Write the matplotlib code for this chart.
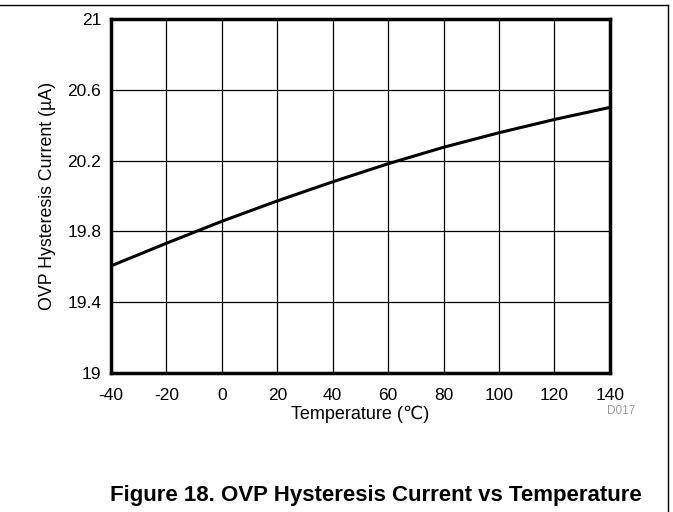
import matplotlib.pyplot as plt
import numpy as np

# values
temperature = [-40, -20, 0, 20, 40, 60, 80, 100, 120, 140]
hyst_current = [19.605, 19.733, 19.857, 19.972, 20.08, 20.182, 20.275, 20.357, 20.432, 20.50]

x_ticks = [-40, -20, 0, 20, 40, 60, 80, 100, 120, 140]
x_tick_labels = ['-40', '-20', '0', '20', '40', '60', '80', '100', '120', '140']
y_ticks = [19, 19.4, 19.8, 20.2, 20.6, 21]
y_tick_labels = ['19', '19.4', '19.8', '20.2', '20.6', '21']

plt.rcParams['font.family'] = ['Liberation Sans', 'DejaVu Sans']

fig = plt.figure(figsize=(6.73, 5.12), dpi=100)
ax = fig.add_axes([0.165, 0.2715, 0.741, 0.6915])

ax.plot(temperature, hyst_current, color='black', linewidth=2.2)

ax.set_xlim(-40, 140)
ax.set_ylim(19, 21)
ax.set_xticks(x_ticks)
ax.set_xticklabels(x_tick_labels)
ax.set_yticks(y_ticks)
ax.set_yticklabels(y_tick_labels)
ax.tick_params(axis='y', length=0, labelsize=12.5, pad=7)
ax.tick_params(axis='x', length=0, labelsize=12.5, pad=11)
ax.grid(True, color='black', linewidth=0.9)
for s in ax.spines.values():
    s.set_linewidth(2.5)

ax.set_xlabel('Temperature (\u2103)', fontsize=13, labelpad=2)
ax.set_ylabel('OVP Hysteresis Current (\u00b5A)', fontsize=12.8, labelpad=8)

fig.text(0.944, 0.197, 'D017', fontsize=8.5, color='#999999', ha='right', va='center')
fig.text(0.559, 0.033, 'Figure 18. OVP Hysteresis Current vs Temperature', fontsize=16,
         fontweight='bold', ha='center', va='center')

# outer frame (top and right edges)
fig.add_artist(plt.Line2D([0, 0.993], [0.990, 0.990], transform=fig.transFigure, color='black', linewidth=1))
fig.add_artist(plt.Line2D([0.993, 0.993], [0, 0.990], transform=fig.transFigure, color='black', linewidth=1))

fig.savefig('out.png', dpi=100)
